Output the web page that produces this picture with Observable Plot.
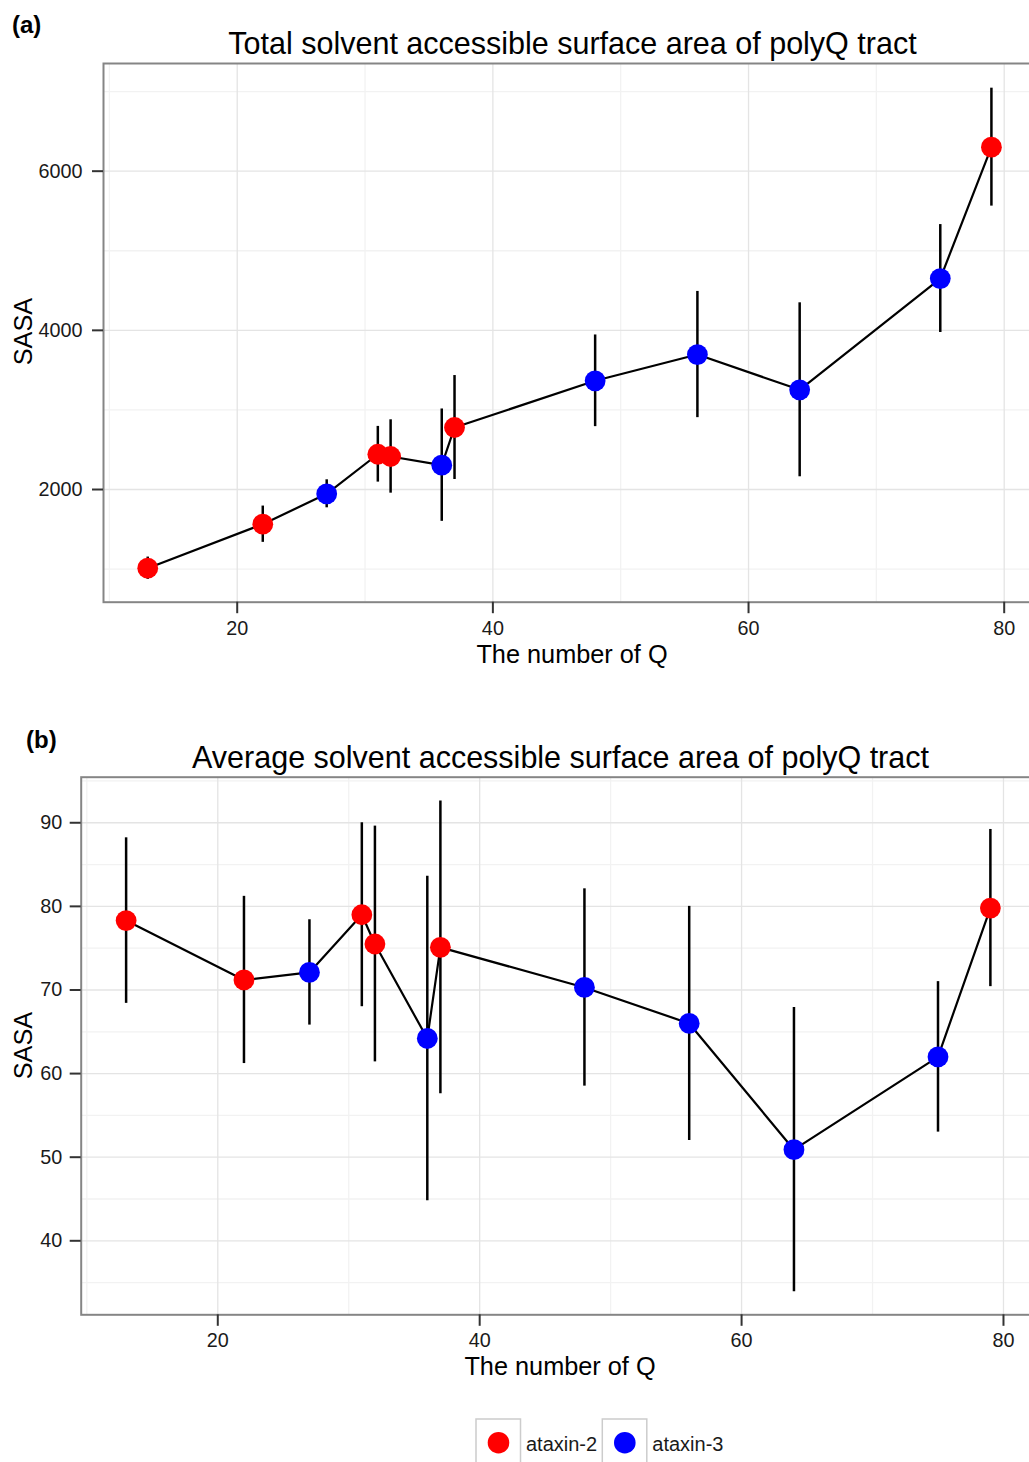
<!DOCTYPE html>
<html>
<head>
<meta charset="utf-8">
<script src="https://cdn.jsdelivr.net/npm/d3@7"></script>
<script src="https://cdn.jsdelivr.net/npm/@observablehq/plot@0.6"></script>
<style>
  html, body { margin: 0; padding: 0; background: white; overflow: hidden; width: 1029px; height: 1462px; }
  #page { position: relative; width: 1029px; height: 1462px; overflow: hidden; font-family: "Liberation Sans", Arial, sans-serif; }
  .panel { position: absolute; left: 0; width: 1045px; }
  #overlay { position: absolute; left: 0; top: 0; pointer-events: none; }
</style>
</head>
<body>
<div id="page">
  <div id="panelA" class="panel" style="top:0px"></div>
  <div id="panelB" class="panel" style="top:700px"></div>
  <svg id="overlay" width="1029" height="1462"></svg>
</div>
<script>
// ---------- data ----------
const qCount   = [13, 22, 27, 31, 32, 36, 37, 48, 56, 64, 75, 79];
const protein  = ["ataxin-2","ataxin-2","ataxin-3","ataxin-2","ataxin-2","ataxin-3","ataxin-2","ataxin-3","ataxin-3","ataxin-3","ataxin-3","ataxin-2"];
const totalSASA = [1011, 1564, 1946, 2443, 2415, 2306, 2779, 3366, 3696, 3253, 4651, 6302];
const totalSD   = [140, 228, 176, 350, 461, 706, 653, 576, 793, 1093, 678, 741];
const avgSASA   = [78.3, 71.2, 72.1, 79.0, 75.5, 64.2, 75.1, 70.3, 66.0, 50.9, 62.0, 79.8];
const avgSD     = [9.9, 10.0, 6.3, 11.0, 14.1, 19.4, 17.5, 11.8, 14.0, 17.0, 9.0, 9.4];

const proteins = ["ataxin-2", "ataxin-3"];
const proteinColors = ["#ff0000", "#0000ff"];

const xTicks = [20, 40, 60, 80];
const xMinor = [10, 30, 50, 70];
const yTicksA = [2000, 4000, 6000];
const yMinorA = [1000, 3000, 5000, 7000];
const yTicksB = [40, 50, 60, 70, 80, 90];
const yMinorB = [35, 45, 55, 65, 75, 85, 95];

const titleA = "Total solvent accessible surface area of polyQ tract";
const titleB = "Average solvent accessible surface area of polyQ tract";
const xTitle = "The number of Q";
const yTitle = "SASA";

// ---------- build tables ----------
const tableA = qCount.map((q, i) => ({q, protein: protein[i], v: totalSASA[i], lo: totalSASA[i] - totalSD[i], hi: totalSASA[i] + totalSD[i]}));
const tableB = qCount.map((q, i) => ({q, protein: protein[i], v: avgSASA[i], lo: avgSASA[i] - avgSD[i], hi: avgSASA[i] + avgSD[i]}));

const W = 1045;
function panel({data, xDomain, plotWidth, yDomain, yTicks, yMinor, height, marginTop, marginBottom, marginLeft, yPad}) {
  return Plot.plot({
    width: W,
    height,
    marginTop,
    marginBottom,
    marginLeft,
    marginRight: W - marginLeft - plotWidth,
    style: {fontFamily: '"Liberation Sans", Arial, sans-serif', fontSize: "19.8px", background: "white", maxWidth: "none", overflow: "visible", color: "#1a1a1a"},
    x: {domain: xDomain},
    y: {domain: yDomain},
    color: {domain: proteins, range: proteinColors},
    marks: [
      Plot.ruleX(xMinor, {stroke: "#f2f2f2", strokeWidth: 1.3}),
      Plot.ruleY(yMinor, {stroke: "#f2f2f2", strokeWidth: 1.3}),
      Plot.ruleX(xTicks, {stroke: "#e4e4e4", strokeWidth: 1.3}),
      Plot.ruleY(yTicks, {stroke: "#e4e4e4", strokeWidth: 1.3}),
      Plot.frame({stroke: "#858585", strokeWidth: 2}),
      Plot.axisX({ticks: xTicks, tickSize: 11.5, tickPadding: 7, label: null, stroke: "#333", strokeWidth: 2, fill: "#1a1a1a", fontSize: 19.8, tickFormat: d => String(d)}),
      Plot.axisY({ticks: yTicks, tickSize: 11, tickPadding: yPad, label: null, stroke: "#333", strokeWidth: 2, fill: "#1a1a1a", fontSize: 19.8, tickFormat: d => String(d)}),
      Plot.line(data, {x: "q", y: "v", stroke: "black", strokeWidth: 2.2}),
      Plot.ruleX(data, {x: "q", y1: "lo", y2: "hi", stroke: "black", strokeWidth: 2.5}),
      Plot.dot(data, {x: "q", y: "v", fill: "protein", r: 10.4})
    ]
  });
}

document.getElementById("panelA").appendChild(panel({
  data: tableA, xDomain: [9.54, 82.3], plotWidth: 930.1,
  yDomain: [584, 7353], yTicks: yTicksA, yMinor: yMinorA,
  height: 690, marginTop: 63, marginBottom: 690 - 601.7, marginLeft: 103, yPad: 10
}));
document.getElementById("panelB").appendChild(panel({
  data: tableB, xDomain: [9.57, 82.3], plotWidth: 952.4,
  yDomain: [31.15, 95.45], yTicks: yTicksB, yMinor: yMinorB,
  height: 700, marginTop: 76.7, marginBottom: 700 - 614.3, marginLeft: 80.7, yPad: 8
}));

// ---------- texts & legend overlay ----------
const ov = d3.select("#overlay");
const ff = '"Liberation Sans", Arial, sans-serif';
function txt(x, y, s, size, opts = {}) {
  const t = ov.append("text").attr("x", x).attr("y", y).text(s)
    .attr("font-family", ff).attr("font-size", size).attr("fill", opts.fill || "#000")
    .attr("text-anchor", opts.anchor || "start");
  if (opts.bold) t.attr("font-weight", "bold");
  if (opts.rotate) t.attr("transform", `rotate(-90 ${x} ${y})`);
  return t;
}
txt(12, 33, "(a)", 24, {bold: true});
txt(26, 748.3, "(b)", 24, {bold: true});
txt(572.5, 54.3, titleA, 30.5, {anchor: "middle"});
txt(560.5, 768.3, titleB, 30.5, {anchor: "middle"});
txt(572, 662.7, xTitle, 25.3, {anchor: "middle"});
txt(560, 1375, xTitle, 25.3, {anchor: "middle"});
txt(32, 331.5, yTitle, 25.3, {anchor: "middle", rotate: true});
txt(32, 1045.5, yTitle, 25.3, {anchor: "middle", rotate: true});

// legend
const keyX = [476, 602.3];
const labelX = [526, 652.3];
proteins.forEach((p, i) => {
  ov.append("rect").attr("x", keyX[i]).attr("y", 1419).attr("width", 44.5).attr("height", 44.5)
    .attr("fill", "white").attr("stroke", "#cccccc").attr("stroke-width", 1.5);
  ov.append("circle").attr("cx", keyX[i] + 22.5).attr("cy", 1442.7).attr("r", 10.8).attr("fill", proteinColors[i]);
  txt(labelX[i], 1450.5, p, 20, {fill: "#1a1a1a"});
});
</script>
</body>
</html>
